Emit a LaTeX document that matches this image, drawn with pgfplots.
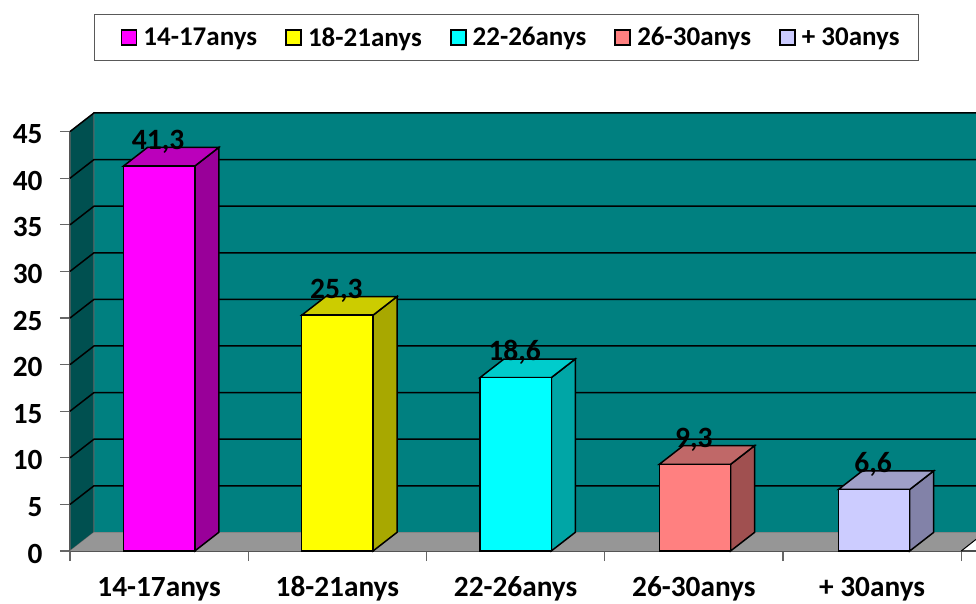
\documentclass[border=0pt]{standalone}
\usepackage{fontspec}
\setmainfont{Carlito}
\usepackage{pgfplots}
\pgfplotsset{compat=1.18}
\definecolor{wallb}{HTML}{008080}
\definecolor{walll}{HTML}{005050}
\definecolor{floorc}{HTML}{969696}
\definecolor{a1}{HTML}{FF00FF}\definecolor{a2}{HTML}{990099}\definecolor{a3}{HTML}{BB00BB}
\definecolor{b1}{HTML}{FFFF00}\definecolor{b2}{HTML}{A8A800}\definecolor{b3}{HTML}{CCCC00}
\definecolor{c1}{HTML}{00FFFF}\definecolor{c2}{HTML}{00A6A6}\definecolor{c3}{HTML}{00CCCC}
\definecolor{d1}{HTML}{FF8080}\definecolor{d2}{HTML}{A05050}\definecolor{d3}{HTML}{C06868}
\definecolor{e1}{HTML}{CCCCFF}\definecolor{e2}{HTML}{8282A8}\definecolor{e3}{HTML}{A0A0C8}
\begin{document}
\begin{tikzpicture}[x=1pt,y=1pt]
\path[use as bounding box] (0,0) rectangle (976,603);
\begin{axis}[
  at={(70pt,52pt)}, anchor=south west,
  scale only axis, width=906pt, height=419.4pt,
  xmin=-0.5, xmax=4.583, ymin=0, ymax=45,
  clip=false,
  axis x line=bottom, axis y line=left,
  axis line style={-, draw=black!70, line width=1.2pt},
  tick style={draw=black!60, line width=1.2pt},
  major tick length=10pt,
  tick align=outside,
  xtick={-0.5,0.5,1.5,2.5,3.5,4.5},
  x tick label as interval,
  xticklabels={14-17anys,18-21anys,22-26anys,26-30anys,+ 30anys},
  x tick label style={font=\fontsize{29.3}{29.3}\selectfont\bfseries, text height=20pt, text depth=0pt, inner ysep=0pt, yshift=-15.5pt},
  ytick={0,5,...,45},
  /pgf/number format/assume math mode=true,
  y tick label style={font=\fontsize{29.3}{29.3}\selectfont\bfseries, xshift=-14pt, yshift=-2.5pt},
  legend image code/.code={\path[draw=none,fill=none] (-10pt,0pt) -- (15pt,0pt);\draw[#1,line width=1.8pt,draw=black] (0pt,-7.5pt) rectangle (15pt,7.5pt);},
  legend style={at={(0.4818,1.2244)}, anchor=center, draw=black!65, line width=1pt,
    font=\fontsize{27}{27}\selectfont\bfseries, legend columns=5,
    inner xsep=17pt, inner ysep=11pt,
    /tikz/every odd column/.append style={column sep=4pt},
    /tikz/every even column/.append style={column sep=17pt}, legend cell align=left},
  bar width=71.3pt,
  nodes near coords style={font=\fontsize{29.5}{29.5}\selectfont\bfseries, text=black, anchor=base, xshift=-1pt, yshift=17pt, inner sep=0pt},
]
% walls and floor
\addplot[fill=wallb, draw=black!60, line width=1pt, forget plot] coordinates {(-0.3654,2)(4.583,2)(4.583,47)(-0.3654,47)} -- cycle;
\addplot[fill=walll, draw=black!60, line width=1pt, forget plot] coordinates {(-0.5,0)(-0.3654,2)(-0.3654,47)(-0.5,45)} -- cycle;
\addplot[fill=floorc, draw=none, forget plot] coordinates {(-0.5,0)(4.5,0)(4.583,1.25)(4.583,2)(-0.3654,2)} -- cycle;
\addplot[black, line width=1pt, forget plot] coordinates {(4.5,0)(4.583,1.25)};
% grid lines
\addplot[black, line width=1.5pt, forget plot] coordinates {(-0.5,5)(-0.3654,7)(4.583,7)};
\addplot[black, line width=1.5pt, forget plot] coordinates {(-0.5,10)(-0.3654,12)(4.583,12)};
\addplot[black, line width=1.5pt, forget plot] coordinates {(-0.5,15)(-0.3654,17)(4.583,17)};
\addplot[black, line width=1.5pt, forget plot] coordinates {(-0.5,20)(-0.3654,22)(4.583,22)};
\addplot[black, line width=1.5pt, forget plot] coordinates {(-0.5,25)(-0.3654,27)(4.583,27)};
\addplot[black, line width=1.5pt, forget plot] coordinates {(-0.5,30)(-0.3654,32)(4.583,32)};
\addplot[black, line width=1.5pt, forget plot] coordinates {(-0.5,35)(-0.3654,37)(4.583,37)};
\addplot[black, line width=1.5pt, forget plot] coordinates {(-0.5,40)(-0.3654,42)(4.583,42)};
\addplot[black, line width=1.5pt, forget plot] coordinates {(-0.5,45)(-0.3654,47)(4.583,47)};
% side faces and top faces
\addplot[fill=a2, draw=black, line width=1.5pt, forget plot] coordinates {(0.2,0)(0.3346,2)(0.3346,43.3)(0.2,41.3)} -- cycle;
\addplot[fill=a3, draw=black, line width=1.5pt, forget plot] coordinates {(-0.2,41.3)(-0.0654,43.3)(0.3346,43.3)(0.2,41.3)} -- cycle;
\addplot[fill=b2, draw=black, line width=1.5pt, forget plot] coordinates {(1.2,0)(1.3346,2)(1.3346,27.3)(1.2,25.3)} -- cycle;
\addplot[fill=b3, draw=black, line width=1.5pt, forget plot] coordinates {(0.8,25.3)(0.9346,27.3)(1.3346,27.3)(1.2,25.3)} -- cycle;
\addplot[fill=c2, draw=black, line width=1.5pt, forget plot] coordinates {(2.2,0)(2.3346,2)(2.3346,20.6)(2.2,18.6)} -- cycle;
\addplot[fill=c3, draw=black, line width=1.5pt, forget plot] coordinates {(1.8,18.6)(1.9346,20.6)(2.3346,20.6)(2.2,18.6)} -- cycle;
\addplot[fill=d2, draw=black, line width=1.5pt, forget plot] coordinates {(3.206,0)(3.3406,2)(3.3406,11.3)(3.206,9.3)} -- cycle;
\addplot[fill=d3, draw=black, line width=1.5pt, forget plot] coordinates {(2.806,9.3)(2.9406,11.3)(3.3406,11.3)(3.206,9.3)} -- cycle;
\addplot[fill=e2, draw=black, line width=1.5pt, forget plot] coordinates {(4.211,0)(4.3456,2)(4.3456,8.6)(4.211,6.6)} -- cycle;
\addplot[fill=e3, draw=black, line width=1.5pt, forget plot] coordinates {(3.811,6.6)(3.9456,8.6)(4.3456,8.6)(4.211,6.6)} -- cycle;
% front faces
\addplot[ybar, bar shift=0pt, fill=a1, draw=black, line width=1.5pt, forget plot, nodes near coords={41,3}] coordinates {(0,41.3)};
\addplot[ybar, bar shift=0pt, fill=b1, draw=black, line width=1.5pt, forget plot, nodes near coords={25,3}] coordinates {(1,25.3)};
\addplot[ybar, bar shift=0pt, fill=c1, draw=black, line width=1.5pt, forget plot, nodes near coords={18,6}] coordinates {(2,18.6)};
\addplot[ybar, bar shift=0pt, fill=d1, draw=black, line width=1.5pt, forget plot, nodes near coords={9,3}] coordinates {(3.006,9.3)};
\addplot[ybar, bar shift=0pt, fill=e1, draw=black, line width=1.5pt, forget plot, nodes near coords={6,6}] coordinates {(4.011,6.6)};
% legend
\addlegendimage{fill=a1}\addlegendentry{14-17anys}
\addlegendimage{fill=b1}\addlegendentry{18-21anys}
\addlegendimage{fill=c1}\addlegendentry{22-26anys}
\addlegendimage{fill=d1}\addlegendentry{26-30anys}
\addlegendimage{fill=e1}\addlegendentry{+ 30anys}
\end{axis}
\end{tikzpicture}
\end{document}
